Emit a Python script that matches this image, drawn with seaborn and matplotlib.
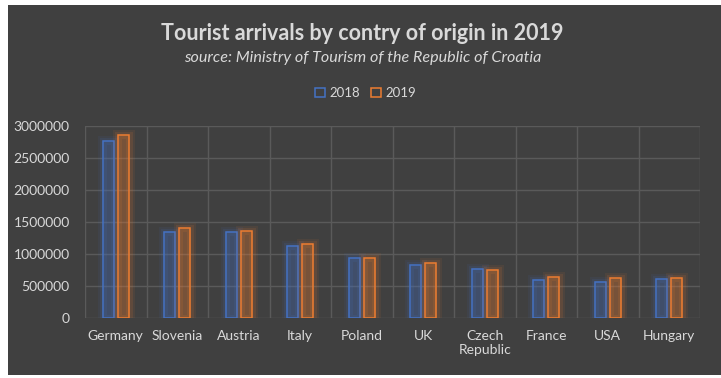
import numpy as np
import pandas as pd
import matplotlib
matplotlib.use("Agg")
import matplotlib.pyplot as plt
import matplotlib.patheffects as pe
from matplotlib.patches import Patch, Rectangle
import seaborn as sns

# data
countries = ["Germany", "Slovenia", "Austria", "Italy", "Poland", "UK",
             "Czech\nRepublic", "France", "USA", "Hungary"]
arrivals_2018 = [2760000, 1340000, 1340000, 1120000, 933000, 823000,
                 760000, 590000, 557000, 605000]
arrivals_2019 = [2855000, 1400000, 1355000, 1150000, 933000, 855000,
                 745000, 636000, 620000, 620000]
years = ["2018", "2019"]
colors = {"2018": "#4472C4", "2019": "#ED7D31"}

df = pd.DataFrame({
    "Country": countries * 2,
    "Year": ["2018"] * len(countries) + ["2019"] * len(countries),
    "Arrivals": arrivals_2018 + arrivals_2019,
})

sns.set_theme(style="dark")
plt.rcParams["font.family"] = ["Lato", "DejaVu Sans"]

bg = "#404040"
txt = "#d9d9d9"
grid = "#5a5a5a"

fig = plt.figure(figsize=(7.21, 3.78), dpi=100, facecolor="white")
fig.patches.append(Rectangle((8 / 721, 3 / 378), 713 / 721, 370 / 378,
                             transform=fig.transFigure, facecolor=bg,
                             edgecolor="none", zorder=-5))
ax = fig.add_axes([85 / 721, 1 - 318 / 378, 615 / 721, 192 / 378])
ax.set_facecolor(bg)

sns.barplot(data=df, x="Country", y="Arrivals", hue="Year", hue_order=years,
            palette=colors, width=0.49, gap=0.25, ax=ax, legend=False,
            errorbar=None, saturation=1)

# outline bars with a soft glow
for bar in ax.patches:
    c = bar.get_facecolor()
    col = (c[0], c[1], c[2])
    bar.set_facecolor((*col, 0.10))
    bar.set_edgecolor(col)
    bar.set_linewidth(1.1)
    bar.set_path_effects([
        pe.Stroke(linewidth=8, foreground=col, alpha=0.08),
        pe.Stroke(linewidth=5, foreground=col, alpha=0.12),
        pe.Normal(),
    ])

ax.set_ylim(0, 3000000)
ax.set_yticks(np.arange(0, 3000001, 500000))
ax.set_yticklabels([f"{int(v)}" for v in np.arange(0, 3000001, 500000)])
ax.set_xlim(-0.5, len(countries) - 0.5)

ax.set_xticks(np.arange(-0.5, len(countries), 1.0), minor=True)
ax.grid(False)
ax.yaxis.grid(True, color=grid, linewidth=1)
ax.xaxis.grid(True, which="minor", color=grid, linewidth=1)
ax.set_axisbelow(True)
for s in ax.spines.values():
    s.set_visible(False)

ax.tick_params(axis="both", which="both", length=0, colors=txt, labelsize=10)
ax.tick_params(axis="x", pad=9)
ax.tick_params(axis="y", pad=11)
ax.set_xlabel("")
ax.set_ylabel("")

fig.text(0.503, 1 - 34 / 378, "Tourist arrivals by contry of origin in 2019",
         ha="center", va="center", color=txt, fontsize=15.5, fontweight="bold")
fig.text(0.503, 1 - 58 / 378, "source: Ministry of Tourism of the Republic of Croatia",
         ha="center", va="center", color=txt, fontsize=11.6, style="italic")

handles = [Patch(facecolor="none", edgecolor=colors[y], linewidth=1.1, label=y)
           for y in years]
leg = fig.legend(handles=handles, loc="center", bbox_to_anchor=(0.507, 1 - 93 / 378),
                 ncol=2, frameon=False, fontsize=9.5, handlelength=0.75,
                 handleheight=0.75, handletextpad=0.35, columnspacing=0.8)
for t in leg.get_texts():
    t.set_color(txt)

fig.savefig("out.png", dpi=100, facecolor=fig.get_facecolor())
